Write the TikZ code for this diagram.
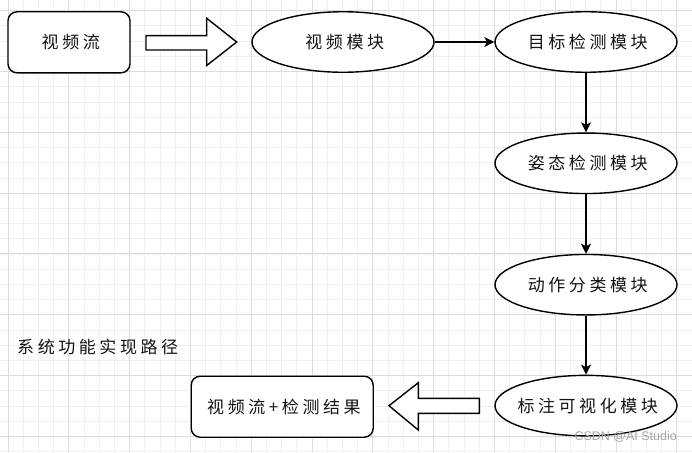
\documentclass[tikz,border=0pt]{standalone}
\usepackage{fontspec}
\newfontfamily\cjk[LetterSpace=21]{Noto Sans CJK SC}
\newfontfamily\wmfont{Liberation Sans}
\usetikzlibrary{arrows.meta,shapes.geometric}
\definecolor{gridminor}{HTML}{F0F0F0}
\definecolor{gridmajor}{HTML}{DCDCDC}
\definecolor{ink}{HTML}{141414}
\newcommand\ztxt[1]{\makebox[0pt][c]{\hspace*{3.5pt}#1}}
\tikzset{
  minorline/.style={draw=gridminor, line width=0.8pt},
  majorline/.style={draw=gridmajor, line width=0.9pt},
  oval/.style={ellipse, draw=black, line width=1.4pt, fill=white, minimum width=182pt, minimum height=60.5pt, inner sep=0pt, font=\cjk\fontsize{17}{19}\selectfont, text=ink},
  rbox/.style={rectangle, rounded corners=9pt, draw=black, line width=1.4pt, fill=white, minimum height=61pt, inner sep=0pt, font=\cjk\fontsize{17}{19}\selectfont, text=ink},
  flow/.style={draw=black, line width=1.3pt, -{Stealth[length=10pt,width=10pt,inset=2.5pt]}},
  blockarrow/.style={draw=black, line width=1.4pt, fill=white, line join=miter},
  caption/.style={font=\cjk\fontsize{17}{19}\selectfont, text=ink, inner sep=0pt, anchor=west},
  watermark/.style={font=\wmfont\fontsize{12.5}{14}\selectfont, text=black!35, inner sep=0pt, anchor=east}
}
\begin{document}
\begin{tikzpicture}[x=1pt,y=-1pt]
\useasboundingbox (0,0) rectangle (692,452);
\fill[white] (0,0) rectangle (692,452);
% grid
\foreach \i in {-1,...,45} {
  \pgfmathsetmacro\xx{8+15.2*\i}
  \draw[minorline] (\xx,0) -- (\xx,452);
}
\foreach \j in {-1,...,29} {
  \pgfmathsetmacro\yy{10.7+15.2*\j}
  \draw[minorline] (0,\yy) -- (692,\yy);
}
\foreach \i in {0,...,11} {
  \pgfmathsetmacro\xx{8+60.8*\i}
  \draw[majorline] (\xx,0) -- (\xx,452);
}
\foreach \j in {0,...,7} {
  \pgfmathsetmacro\yy{10.7+60.8*\j}
  \draw[majorline] (0,\yy) -- (692,\yy);
}
% nodes
\node[rbox, minimum width=122pt] (src) at (69,42.3) {\ztxt{视频流}};
\node[oval] (video) at (343,42) {\ztxt{视频模块}};
\node[oval] (detect) at (586,42) {\ztxt{目标检测模块}};
\node[oval] (pose) at (586,163.3) {\ztxt{姿态检测模块}};
\node[oval] (action) at (586,284.7) {\ztxt{动作分类模块}};
\node[oval] (vis) at (586,405.6) {\ztxt{标注可视化模块}};
\node[rbox, minimum width=182pt] (out) at (282.2,406.7) {\ztxt{视频流+检测结果}};
\node[caption] (title) at (17,346.7) {系统功能实现路径};
\node[watermark] (wm) at (677,437) {CSDN @AI Studio};
% block arrows
\draw[blockarrow] (146,35.7) -- (206.7,35.7) -- (206.7,18.3) -- (236.7,42) -- (206.7,65.5) -- (206.7,50) -- (146,50) -- cycle;
\draw[blockarrow] (479.3,398.3) -- (418.3,398.3) -- (418.3,382.7) -- (389,405.7) -- (418.3,430) -- (418.3,413.3) -- (479.3,413.3) -- cycle;
% connectors
\draw[flow] (video) -- (detect);
\draw[flow] (detect) -- (pose);
\draw[flow] (pose) -- (action);
\draw[flow] (action) -- (vis);
\end{tikzpicture}
\end{document}
